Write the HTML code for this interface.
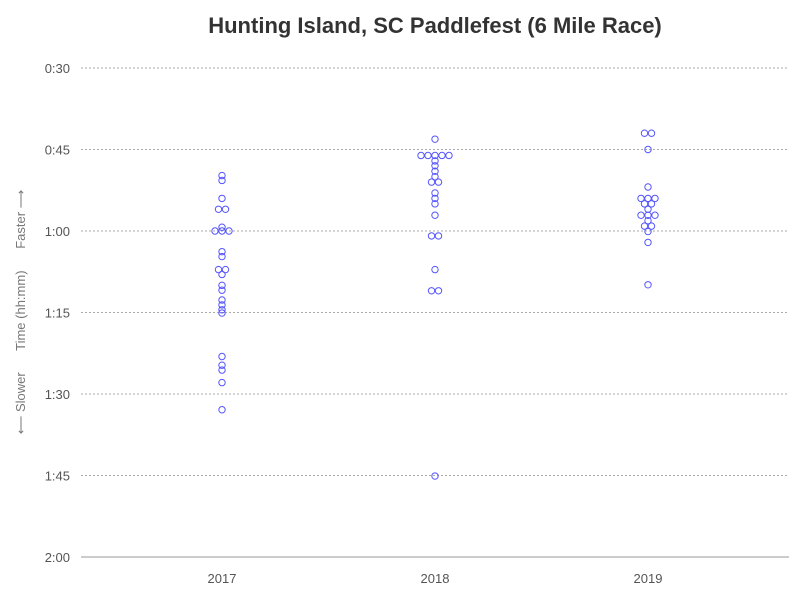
<!DOCTYPE html>
<html><head><meta charset="utf-8"><style>
body{margin:0;background:#fff;font-family:"Liberation Sans",sans-serif}
svg text{font-family:"Liberation Sans",sans-serif}
</style></head><body>
<svg id="chart" width="800" height="600" xmlns="http://www.w3.org/2000/svg">
<rect width="800" height="600" fill="#fff"/>
<text x="435" y="33" text-anchor="middle" font-size="22" font-weight="bold" fill="#333">Hunting Island, SC Paddlefest (6 Mile Race)</text>
<text transform="translate(25,312) rotate(-90)" text-anchor="middle" font-size="13" fill="#777" xml:space="preserve">⟵ Slower      Time (hh:mm)      Faster ⟶</text>
<g id="grid"></g><g id="marks"></g>
</svg>
<script>
const categories=["2017","2018","2019"];
const times2017=[49.8,50.7,54.0,56.0,56.0,59.3,60,60,60,63.8,64.7,67.1,67.1,68.0,70.0,70.9,72.7,73.6,74.5,75.1,83.1,84.7,85.6,87.9,92.9];
const times2018=[43.1,46.1,46.1,46.1,46.1,46.1,47.1,48.0,49.0,50.0,51.0,51.0,53.0,54.0,55.0,57.1,60.9,60.9,67.1,71.0,71.0,105.1];
const times2019=[42.0,42.0,45.0,51.9,54.0,54.0,54.0,55.0,55.0,56.0,57.1,57.1,57.1,58.1,59.1,59.1,60.1,62.1,69.9];
const tickValues=[30,45,60,75,90,105,120];
const tickLabels=["0:30","0:45","1:00","1:15","1:30","1:45","2:00"];
const series=[times2017,times2018,times2019];
const NS="http://www.w3.org/2000/svg";
const plotTop=68,plotBottom=557,plotLeft=81,plotRight=789;
function yScale(v){return plotTop+(v-30)/90*(plotBottom-plotTop);}
function xScale(i){return 222+i*213;}
function mk(t,a,p){const e=document.createElementNS(NS,t);for(const k in a)e.setAttribute(k,a[k]);p.appendChild(e);return e;}
const grid=document.getElementById('grid'),marks=document.getElementById('marks');
tickValues.forEach((v,i)=>{
  if(i<tickValues.length-1){const l=mk('line',{x1:plotLeft,x2:plotRight,y1:yScale(v),y2:yScale(v),stroke:'#aaa','stroke-dasharray':'2,2'},grid);
  
  }
  const t=mk('text',{x:70,y:yScale(v)+5,'text-anchor':'end','font-size':13,fill:'#555'},grid);t.textContent=tickLabels[i];
  
  
});
const ax=mk('line',{x1:plotLeft,x2:plotRight,y1:plotBottom,y2:plotBottom,stroke:'#999'},grid);


categories.forEach((c,i)=>{
  const t=mk('text',{x:xScale(i),y:plotBottom+26,'text-anchor':'middle','font-size':13,fill:'#555'},grid);t.textContent=c;
  
  
  const vals=series[i].slice().sort((a,b)=>a-b);
  const groups=[];
  vals.forEach(v=>{const g=groups[groups.length-1];if(g&&Math.abs(v-g[0])<0.2)g.push(v);else groups.push([v]);});
  groups.forEach(g=>{
    g.forEach((v,k)=>{
      const off=(k-(g.length-1)/2)*7;
      const cc=mk('circle',{cx:xScale(i)+off,cy:yScale(v),r:3.2,fill:'none',stroke:'#5555ff','stroke-width':1},marks);
      
      
    });
  });
});
</script>
</body></html>
